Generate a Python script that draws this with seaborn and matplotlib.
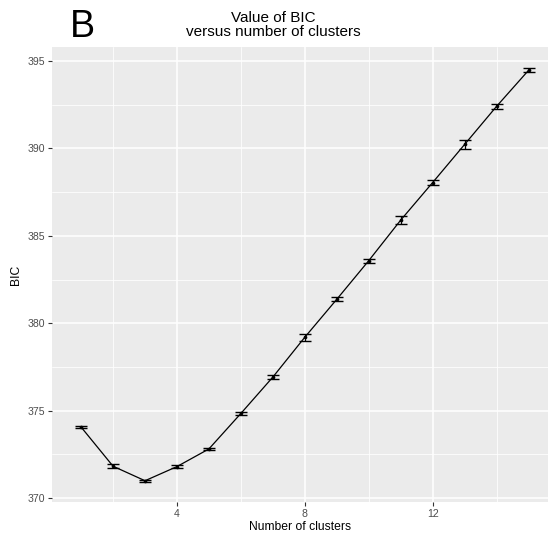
import matplotlib
matplotlib.use("Agg")
import matplotlib.pyplot as plt
import seaborn as sns
import numpy as np
import pandas as pd
from matplotlib.ticker import MultipleLocator

# BIC per number of clusters, with standard error
clusters = [1, 2, 3, 4, 5, 6, 7, 8, 9, 10, 11, 12, 13, 14, 15]
bic_mean = [374.06, 371.82, 370.99, 371.80, 372.81, 374.84, 376.92, 379.20,
            381.37, 383.58, 385.90, 388.05, 390.23, 392.41, 394.47]
bic_se = [0.05, 0.10, 0.07, 0.09, 0.06, 0.09, 0.13, 0.19,
          0.12, 0.11, 0.23, 0.14, 0.24, 0.15, 0.12]
x_ticks = [4, 8, 12]
y_ticks = [370, 375, 380, 385, 390, 395]

df = pd.DataFrame({"k": clusters, "bic": bic_mean, "se": bic_se})

sns.set_theme(style="darkgrid")
plt.rcParams["font.family"] = ["Liberation Sans", "DejaVu Sans"]

W, H = 548, 535
fig = plt.figure(figsize=(W / 100, H / 100), dpi=100)
left, right, top, bottom = 51.7, 548, 47.3, 501.7
ax = fig.add_axes([left / W, 1 - bottom / H, (right - left) / W, (bottom - top) / H])
ax.set_facecolor("#EBEBEB")

ax.errorbar(df["k"], df["bic"], yerr=df["se"], fmt="none", ecolor="black",
            elinewidth=0.9, capsize=4.6, capthick=1.0, zorder=3)
sns.lineplot(data=df, x="k", y="bic", ax=ax, color="black", linewidth=0.9,
             zorder=4)
sns.scatterplot(data=df, x="k", y="bic", ax=ax, color="black", s=7,
                edgecolor="black", linewidth=0, zorder=5)

ax.set_xlim(0.08, 15.61)
ax.set_ylim(369.79, 395.79)
ax.set_xticks(x_ticks)
ax.set_yticks(y_ticks)
ax.xaxis.set_minor_locator(MultipleLocator(2))
ax.yaxis.set_minor_locator(MultipleLocator(2.5))
ax.grid(which="major", color="white", linewidth=1.1)
ax.grid(which="minor", color="white", linewidth=0.55)
for s in ax.spines.values():
    s.set_visible(False)

ax.tick_params(axis="both", which="major", bottom=True, left=True, length=3,
               width=0.8, color="#333333", labelsize=7.6, labelcolor="#4D4D4D",
               pad=2, direction="out")
ax.tick_params(axis="both", which="minor", length=0)

ax.set_xlabel("Number of clusters", fontsize=8.7, color="black", labelpad=2)
ax.set_ylabel("BIC", fontsize=8.7, color="black", labelpad=4)

fig.text(273 / W, 1 - 25.5 / H, "Value of BIC\nversus number of clusters",
         ha="center", va="center", fontsize=11, linespacing=1.0, color="black")
fig.text(70 / W, 1 - 27 / H, "B", ha="left", va="center", fontsize=27,
         color="black")

fig.savefig("out.png", dpi=100, facecolor="white")
